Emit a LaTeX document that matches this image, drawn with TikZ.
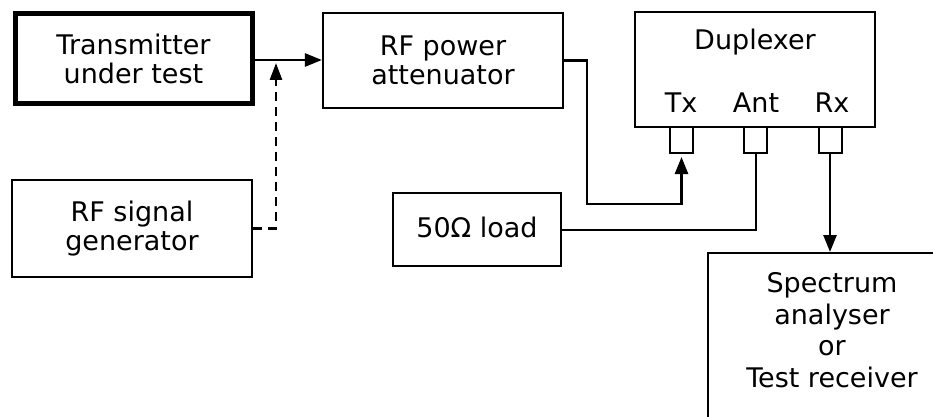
\documentclass[tikz,border=0pt]{standalone}
\usepackage{fontspec}
\setmainfont{DejaVu Sans}
\usetikzlibrary{arrows.meta}
\begin{document}
\begin{tikzpicture}[x=1pt,y=-1pt,
  box/.style={draw, line width=2.2pt, rectangle, inner sep=0pt, align=center,
    font=\fontsize{27}{29}\selectfont},
  port/.style={draw, line width=2pt, rectangle, inner sep=0pt, minimum width=23pt, minimum height=26pt},
  lbl/.style={inner sep=0pt, anchor=base, font=\fontsize{27}{29}\selectfont},
  wire/.style={line width=2pt},
  arr/.style={line width=2.6pt, -{Triangle[length=17pt,width=13pt]}},
  dsh/.style={line width=2.6pt, dash pattern=on 9pt off 6pt, -{Triangle[length=17pt,width=12pt]}}
]
\useasboundingbox (0,0) rectangle (933,417);
\clip (0,0) rectangle (933,417);
\fill[white] (0,0) rectangle (933,417);

% boxes
\node[box, line width=5pt, minimum width=237pt, minimum height=90pt] (tx) at (133.5,59) {Transmitter\\under test};
\node[box, minimum width=240pt, minimum height=95pt] (att) at (443,60.5) {RF power\\attenuator};
\node[box, minimum width=240pt, minimum height=97pt] (gen) at (132,228.5) {RF signal\\generator};
\node[box, minimum width=240pt, minimum height=115pt] (dup) at (755,69.5) {};
\node[box, minimum width=168pt, minimum height=73pt] (load) at (477,229.5) {\raisebox{4pt}{50Ω load}};
\node[box, minimum width=250pt, minimum height=200pt, anchor=north west] (spec) at (707,252) {};

% duplexer labels
\node[lbl] (duplbl) at (755,50) {Duplexer};
\node[lbl] (txlbl) at (681,113) {Tx};
\node[lbl] (antlbl) at (756,113) {Ant};
\node[lbl] (rxlbl) at (832,113) {Rx};

% spectrum text
\node[inner sep=0pt, align=center, anchor=base, font=\fontsize{27}{31.5}\selectfont] (spectxt) at (832,387)
  {Spectrum\\analyser\\or\\Test receiver};

% ports
\node[port] (txp) at (681.5,140) {};
\node[port] (antp) at (755.5,140) {};
\node[port] (rxp) at (830,140) {};

% coordinates
\coordinate (J) at (276,60);
\coordinate (c1) at (587,204);

% connectors
\draw[arr] (tx.east |- J) -- (J -| att.west);
\draw[dsh] (gen.east) -| ([yshift=-3pt]J);
\draw[arr] (att.east) -| (c1) -| ([yshift=-3pt]txp.south);
\draw[wire] (load.east) -| (antp.south);
\draw[arr] (rxp.south) -- (rxp.south |- spec.north);
\end{tikzpicture}
\end{document}
